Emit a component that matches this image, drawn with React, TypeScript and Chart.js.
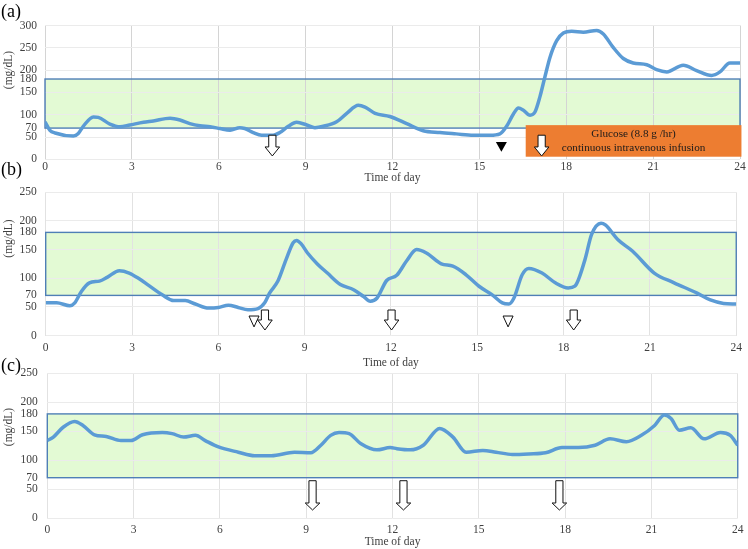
import React, { useEffect, useRef } from "react";
import { Chart, registerables } from "chart.js";

Chart.register(...registerables);

const FONT = "'Liberation Serif', 'Times New Roman', serif";

// ---------- data ----------
const X_TICKS = [0, 3, 6, 9, 12, 15, 18, 21, 24];
const Y_TICKS_A = [0, 50, 70, 100, 150, 180, 200, 250, 300];
const Y_TICKS_BC = [0, 50, 70, 100, 150, 180, 200, 250];
const TARGET_LOW = 70;
const TARGET_HIGH = 180;

// Panel (a)
const A_TIMES = [0, 0.17, 0.35, 0.98, 1.15, 1.32, 1.67, 1.84, 2.24, 2.59, 2.93, 3.4, 3.74, 4.32, 4.66, 5.0, 5.35, 5.7, 6.04, 6.39, 6.73, 6.9, 7.19, 7.48, 7.88, 8.11, 8.4, 8.69, 9.04, 9.32, 9.61, 10.07, 10.42, 10.82, 11.05, 11.4, 11.91, 12.49, 13.06, 13.64, 14.2, 14.79, 15.37, 15.71, 15.94, 16.17, 16.35, 16.52, 16.75, 16.92, 17.09, 17.26, 17.44, 17.67, 17.9, 18.19, 18.59, 19.05, 19.28, 19.62, 19.97, 20.31, 20.78, 21.12, 21.47, 22.04, 22.5, 23.02, 23.31, 23.65, 24];
const A_GLUCOSE = [84, 65, 59, 52, 58, 74, 95, 94, 79, 73, 77, 83, 86, 92, 88, 80, 75, 73, 69, 65, 71, 69, 60, 54, 54, 60, 74, 83, 77, 71, 74, 84, 103, 121, 117, 103, 96, 80, 64, 60, 57, 54, 54, 57, 74, 101, 115, 110, 99, 106, 140, 184, 229, 266, 283, 287, 285, 289, 281, 251, 226, 216, 212, 201, 196, 211, 199, 188, 196, 216, 216];
const A_MEALS = [7.85];
const A_HYPO_FILLED = [15.76];
const A_INFUSION_START = 16.6;
const A_INFUSION_END = 24.05;
const A_INFUSION_ARROW = [17.15];
const A_INFUSION_TEXT = ["Glucose (8.8 g /hr)", "continuous intravenous infusion"];

// Panel (b)
const B_TIMES = [0, 0.38, 0.84, 1.01, 1.24, 1.52, 1.87, 2.15, 2.56, 2.9, 3.25, 3.59, 4.05, 4.45, 4.85, 5.2, 5.66, 6.0, 6.35, 6.69, 7.03, 7.38, 7.61, 7.78, 8.07, 8.35, 8.6, 8.72, 8.88, 9.1, 9.44, 9.79, 10.24, 10.7, 11.05, 11.28, 11.51, 11.85, 12.2, 12.54, 12.89, 13.23, 13.75, 14.15, 14.61, 15.06, 15.52, 15.87, 16.1, 16.27, 16.56, 16.79, 17.25, 17.71, 18.16, 18.39, 18.74, 18.97, 19.3, 19.45, 19.89, 20.4, 21.15, 21.84, 22.64, 23.1, 23.56, 24];
const B_GLUCOSE = [57, 57, 52, 57, 77, 92, 95, 102, 113, 109, 99, 87, 71, 61, 61, 55, 48, 49, 53, 49, 45, 47, 57, 74, 95, 132, 162, 166, 160, 144, 125, 109, 89, 80, 68, 60, 65, 96, 105, 130, 150, 144, 125, 121, 106, 86, 71, 57, 55, 65, 106, 117, 109, 92, 83, 86, 132, 176, 196, 193, 167, 147, 109, 92, 74, 62, 56, 55];
const B_MEALS = [7.62, 12.02, 18.35];
const B_HYPO_OPEN = [7.24, 16.07];

// Panel (c)
const C_TIMES = [0, 0.21, 0.55, 0.95, 1.24, 1.64, 2.05, 2.56, 2.91, 3.31, 4.0, 4.34, 4.74, 5.15, 5.49, 5.95, 6.64, 7.21, 7.79, 8.59, 9.16, 9.51, 9.85, 10.14, 10.49, 10.89, 11.46, 11.92, 12.15, 12.61, 13.07, 13.64, 14.1, 14.56, 15.14, 15.6, 16.17, 16.74, 17.32, 17.89, 18.46, 19.04, 19.56, 20.13, 20.65, 21.11, 21.45, 21.68, 21.97, 22.37, 22.83, 23.4, 23.74, 24];
const C_GLUCOSE = [134, 140, 157, 167, 160, 144, 141, 134, 134, 144, 148, 146, 140, 143, 134, 123, 114, 108, 108, 114, 113, 126, 143, 148, 146, 129, 118, 122, 120, 118, 126, 155, 140, 114, 117, 114, 110, 111, 113, 122, 122, 126, 137, 132, 143, 160, 178, 172, 152, 156, 137, 148, 143, 126];
const C_MEALS = [9.22, 12.38, 17.8];

// ---------- panel layouts (page coordinates) ----------
type PanelCfg = {
  label: string;
  top: number;
  height: number;
  labelY: number;
  unitY: number;
  left: number;
  right: number;
  chartTop: number;
  chartBottom: number;
  titleY: number;
  xTickPad: number;
  yTickPad: number;
  yMax: number;
  yTicks: number[];
  times: number[];
  values: number[];
  meals: number[];
  arrowTop: number;
  arrowBottom: number;
  arrowHead: number;
  vGrid: string;
  hypoFilled?: number[];
  hypoOpen?: number[];
  infusion?: boolean;
};

const PANELS: PanelCfg[] = [
  {
    label: "(a)", top: 0, height: 186, labelY: 12.5, unitY: 70,
    left: 45, right: 740, chartTop: 25.5, chartBottom: 159.3, titleY: 178,
    xTickPad: 0.5, yTickPad: 8, yMax: 300, yTicks: Y_TICKS_A,
    times: A_TIMES, values: A_GLUCOSE, meals: A_MEALS,
    arrowTop: 54, arrowBottom: 7.5, arrowHead: 9, vGrid: "#d4d4d4",
    hypoFilled: A_HYPO_FILLED, infusion: true,
  },
  {
    label: "(b)", top: 158, height: 212, labelY: 170, unitY: 238.5,
    left: 45.7, right: 743, chartTop: 192.3, chartBottom: 335.5, titleY: 362.5,
    xTickPad: 6, yTickPad: 9, yMax: 250, yTicks: Y_TICKS_BC,
    times: B_TIMES, values: B_GLUCOSE, meals: B_MEALS,
    arrowTop: 44.5, arrowBottom: 9.6, arrowHead: 10, vGrid: "#e2e2e2",
    hypoOpen: B_HYPO_OPEN,
  },
  {
    label: "(c)", top: 355, height: 194, labelY: 366, unitY: 427,
    left: 47.3, right: 744, chartTop: 373.3, chartBottom: 518.3, titleY: 541.7,
    xTickPad: 4.5, yTickPad: 9.5, yMax: 250, yTicks: Y_TICKS_BC,
    times: C_TIMES, values: C_GLUCOSE, meals: C_MEALS,
    arrowTop: 64.8, arrowBottom: 14.3, arrowHead: 7, vGrid: "#e2e2e2",
  },
];

function downArrow(ctx: CanvasRenderingContext2D, cx: number, yTop: number, yBot: number, headH: number) {
  const sw = 3.6, hw = 7.3;
  ctx.beginPath();
  ctx.moveTo(cx - sw, yTop);
  ctx.lineTo(cx + sw, yTop);
  ctx.lineTo(cx + sw, yBot - headH);
  ctx.lineTo(cx + hw, yBot - headH);
  ctx.lineTo(cx, yBot);
  ctx.lineTo(cx - hw, yBot - headH);
  ctx.lineTo(cx - sw, yBot - headH);
  ctx.closePath();
  ctx.fillStyle = "#ffffff";
  ctx.fill();
  ctx.strokeStyle = "#111";
  ctx.lineWidth = 1;
  ctx.stroke();
}

function triangle(ctx: CanvasRenderingContext2D, cx: number, yTop: number, yBot: number, w: number, filled: boolean) {
  ctx.beginPath();
  ctx.moveTo(cx - w / 2, yTop);
  ctx.lineTo(cx + w / 2, yTop);
  ctx.lineTo(cx, yBot);
  ctx.closePath();
  if (filled) {
    ctx.fillStyle = "#000";
    ctx.fill();
  } else {
    ctx.fillStyle = "#fff";
    ctx.fill();
    ctx.strokeStyle = "#111";
    ctx.lineWidth = 1;
    ctx.stroke();
  }
}

function Panel({ cfg }: { cfg: PanelCfg }) {
  const ref = useRef<HTMLCanvasElement>(null);

  useEffect(() => {
    const canvas = ref.current!;
    const top = cfg.top;
    const chartTopC = cfg.chartTop - top;
    const chartBottomC = cfg.chartBottom - top;
    const xAxisH = cfg.titleY + 6.9 - cfg.chartBottom;
    const padBottom = Math.max(0, cfg.height - chartBottomC - xAxisH);

    const overlay = {
      id: "overlay" + cfg.label,
      beforeDraw(chart: any) {
        const ctx: CanvasRenderingContext2D = chart.ctx;
        const xs = chart.scales.x, ys = chart.scales.y;
        const x0 = xs.getPixelForValue(0), x1 = xs.getPixelForValue(24);
        const yT = ys.getPixelForValue(TARGET_HIGH), yB = ys.getPixelForValue(TARGET_LOW);
        ctx.save();
        ctx.fillStyle = "#e3fad4";
        ctx.fillRect(x0, yT, x1 - x0, yB - yT);
        ctx.restore();
      },
      beforeDatasetsDraw(chart: any) {
        const ctx: CanvasRenderingContext2D = chart.ctx;
        const xs = chart.scales.x, ys = chart.scales.y;
        const x0 = xs.getPixelForValue(0), x1 = xs.getPixelForValue(24);
        const yT = ys.getPixelForValue(TARGET_HIGH), yB = ys.getPixelForValue(TARGET_LOW);
        ctx.save();
        ctx.strokeStyle = "#4f7fb6";
        ctx.lineWidth = 1.4;
        ctx.strokeRect(x0, yT, x1 - x0, yB - yT);
        ctx.restore();
      },
      afterDatasetsDraw(chart: any) {
        const ctx: CanvasRenderingContext2D = chart.ctx;
        const xs = chart.scales.x, ys = chart.scales.y;
        ctx.save();
        if (cfg.infusion) {
          const bx0 = xs.getPixelForValue(A_INFUSION_START);
          const bx1 = xs.getPixelForValue(A_INFUSION_END);
          const by0 = ys.getPixelForValue(76.6);
          const by1 = ys.getPixelForValue(5.8);
          ctx.fillStyle = "#ed7d31";
          ctx.fillRect(bx0, by0, bx1 - bx0, by1 - by0);
          const cx = (bx0 + bx1) / 2, cy = (by0 + by1) / 2;
          ctx.fillStyle = "#1a1a1a";
          ctx.font = `11.2px ${FONT}`;
          ctx.textAlign = "center";
          ctx.textBaseline = "middle";
          ctx.fillText(A_INFUSION_TEXT[0], cx, cy - 6.5);
          ctx.fillText(A_INFUSION_TEXT[1], cx, cy + 7);
          A_INFUSION_ARROW.forEach((t) =>
            downArrow(ctx, xs.getPixelForValue(t), ys.getPixelForValue(cfg.arrowTop), ys.getPixelForValue(cfg.arrowBottom), cfg.arrowHead)
          );
        }
        cfg.meals.forEach((t) =>
          downArrow(ctx, xs.getPixelForValue(t), ys.getPixelForValue(cfg.arrowTop), ys.getPixelForValue(cfg.arrowBottom), cfg.arrowHead)
        );
        (cfg.hypoFilled || []).forEach((t) =>
          triangle(ctx, xs.getPixelForValue(t), ys.getPixelForValue(39), ys.getPixelForValue(17), 11, true)
        );
        (cfg.hypoOpen || []).forEach((t) =>
          triangle(ctx, xs.getPixelForValue(t), ys.getPixelForValue(34), ys.getPixelForValue(15), 10, false)
        );
        ctx.restore();
      },
      afterDraw(chart: any) {
        const ctx: CanvasRenderingContext2D = chart.ctx;
        ctx.save();
        ctx.fillStyle = "#000";
        ctx.font = `18px ${FONT}`;
        ctx.textAlign = "left";
        ctx.textBaseline = "middle";
        ctx.fillText(cfg.label, 1, cfg.labelY - top);
        ctx.translate(9, cfg.unitY - top);
        ctx.rotate(-Math.PI / 2);
        ctx.font = `11.5px ${FONT}`;
        ctx.fillStyle = "#404040";
        ctx.textAlign = "center";
        ctx.fillText("(mg/dL)", 0, 0);
        ctx.restore();
      },
    };

    const data = cfg.times.map((t, i) => ({ x: t, y: cfg.values[i] }));

    const chart = new Chart(canvas, {
      type: "line",
      data: {
        datasets: [
          {
            data,
            borderColor: "#5b9bd5",
            borderWidth: 3.5,
            pointRadius: 0,
            fill: false,
            cubicInterpolationMode: "monotone",
          } as any,
        ],
      },
      options: {
        animation: false,
        responsive: false,
        events: [],
        layout: {
          padding: {
            left: 0,
            right: 748 - cfg.right,
            top: chartTopC,
            bottom: padBottom,
          },
        },
        plugins: {
          legend: { display: false },
          tooltip: { enabled: false },
        },
        scales: {
          x: {
            type: "linear",
            min: 0,
            max: 24,
            afterBuildTicks: (s: any) => {
              s.ticks = X_TICKS.map((v) => ({ value: v }));
            },
            afterFit: (s: any) => {
              s.height = xAxisH;
            },
            ticks: {
              padding: cfg.xTickPad,
              maxRotation: 0,
              autoSkip: false,
              color: "#404040",
              font: { family: FONT, size: 11.5 },
            },
            grid: { color: cfg.vGrid, drawTicks: false, lineWidth: 1 },
            border: { display: false },
            title: {
              display: true,
              text: "Time of day",
              color: "#404040",
              font: { family: FONT, size: 11.5 },
              padding: { top: 0, bottom: 0 },
            },
          },
          y: {
            type: "linear",
            min: 0,
            max: cfg.yMax,
            afterBuildTicks: (s: any) => {
              s.ticks = cfg.yTicks.map((v) => ({ value: v }));
            },
            afterFit: (s: any) => {
              s.width = cfg.left;
            },
            ticks: {
              padding: cfg.yTickPad,
              autoSkip: false,
              color: "#404040",
              font: { family: FONT, size: 11.5 },
            },
            grid: {
              color: (c: any) =>
                c.tick && (c.tick.value === TARGET_LOW || c.tick.value === TARGET_HIGH) ? "rgba(0,0,0,0)" : "#ebebeb",
              drawTicks: false,
              lineWidth: 1,
            },
            border: { display: false },
          },
        },
      } as any,
      plugins: [overlay],
    });
    return () => chart.destroy();
  }, [cfg]);

  return (
    <canvas
      ref={ref}
      width={748}
      height={cfg.height}
      style={{ position: "absolute", left: 0, top: cfg.top, width: 748, height: cfg.height }}
    />
  );
}

export default function App() {
  return (
    <div style={{ position: "absolute", left: 0, top: 0, width: 748, height: 549, background: "#fff", overflow: "hidden" }}>
      {PANELS.map((p) => (
        <Panel key={p.label} cfg={p} />
      ))}
    </div>
  );
}
